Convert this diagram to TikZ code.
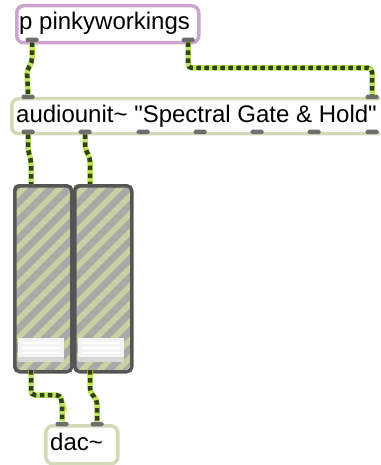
\documentclass[tikz,border=0pt]{standalone}
\usepackage{fontspec}
\newfontfamily\maxfont{Liberation Sans}
\begin{document}
\begin{tikzpicture}[x=1pt,y=-1pt,
  objbox/.style={draw=boxgreen, line width=3.5pt, fill=white, rounded corners=7pt,
    anchor=north west, inner sep=0pt},
  subbox/.style={objbox, draw=boxpurple},
  objtext/.style={anchor=base west, inner sep=0pt, font=\maxfont\fontsize{24}{26}\selectfont},
  port/.style={fill=portgray, rounded corners=1.5pt, minimum width=13pt,
    minimum height=4.5pt, inner sep=0pt},
  cordbase/.style={line width=5.5pt, cordgreen, rounded corners=4pt},
  corddash/.style={line width=4.5pt, corddark, dash pattern=on 4.5pt off 3.5pt, rounded corners=4pt},
  sliderbody/.style={draw=sliderdark, line width=3.5pt, rounded corners=5pt},
]
\definecolor{boxgreen}{HTML}{D2DAB8}
\definecolor{boxpurple}{HTML}{CDA5CF}
\definecolor{portgray}{HTML}{6E6E6E}
\definecolor{cordgreen}{HTML}{BDE65A}
\definecolor{corddark}{HTML}{34401C}
\definecolor{sliderdark}{HTML}{555555}
\definecolor{sliderfill}{HTML}{CBCFA4}
\definecolor{stripe}{HTML}{A9A9A7}
\definecolor{knob}{HTML}{D8D8D8}

\useasboundingbox (0,0) rectangle (380,465);
\clip (0,0) rectangle (380,465);

% object boxes
\node[subbox, minimum width=182pt, minimum height=37pt] (pw) at (15,4) {};
\node[objtext] (pwtext) at (19,30) {p pinkyworkings};

\node[objbox, minimum width=380pt, minimum height=35pt] (au) at (10,97) {};
\node[objtext] (autext) at (16,123) {audiounit\~{} "Spectral Gate \& Hold"};

\node[objbox, minimum width=72pt, minimum height=38pt] (dac) at (44,424) {};
\node[objtext] (dactext) at (50,450) {dac\~{}};

% sliders
\foreach \n/\x in {sl/13, sr/73}{
  \begin{scope}
    \clip[rounded corners=5pt] (\x,184) rectangle (\x+57,370);
    \fill[sliderfill] (\x,184) rectangle (\x+57,370);
    \foreach \i in {-200,-182,...,80}
      \draw[stripe, line width=7pt] (\x+\i,372) -- (\x+\i+200,172);
  \end{scope}
  \node[sliderbody, anchor=north west, minimum width=57pt, minimum height=186pt, inner sep=0pt] (\n) at (\x,184) {};
  \fill[knob] (\x+5,338) rectangle (\x+51,362);
  \fill[white!70!knob] (\x+5,338) rectangle (\x+51,357);
  \foreach \yy in {343,348,353}
    \draw[white, line width=1.6pt] (\x+9,\yy) -- (\x+47,\yy);
}

% inlets and outlets
\node[port] (pwo1) at (32,40) {};
\node[port] (pwo2) at (188,40) {};
\node[port] (aui1) at (28,97) {};
\node[port] (aui2) at (372,97) {};
\foreach \k/\x in {1/28, 2/85, 3/143, 4/200, 5/257, 6/314, 7/372}
  \node[port] (auo\k) at (\x,132) {};
\node[port] (daci1) at (62,424) {};
\node[port] (daci2) at (97,424) {};
\coordinate (sli) at (31,184);
\coordinate (sri) at (90,184);
\coordinate (slo) at (31,370);
\coordinate (sro) at (90,370);

% patch cords
\foreach \sty in {cordbase, corddash}{
  \draw[\sty] (pwo1.south) -- ++(0,20) -- (27,70) -- (aui1.north);
  \draw[\sty] (pwo2.south) |- (372,68) -- (aui2.north);
  \draw[\sty] (auo1.south) -- ++(0,16) -- (31,160) -- (sli);
  \draw[\sty] (auo2.south) -- ++(0,14) -- (90,158) -- (sri);
  \draw[\sty] (slo) |- (60,395) -- (62,402) -- (daci1.north);
  \draw[\sty] (sro) -- (90,392) -- (97,400) -- (daci2.north);
}
\end{tikzpicture}
\end{document}
